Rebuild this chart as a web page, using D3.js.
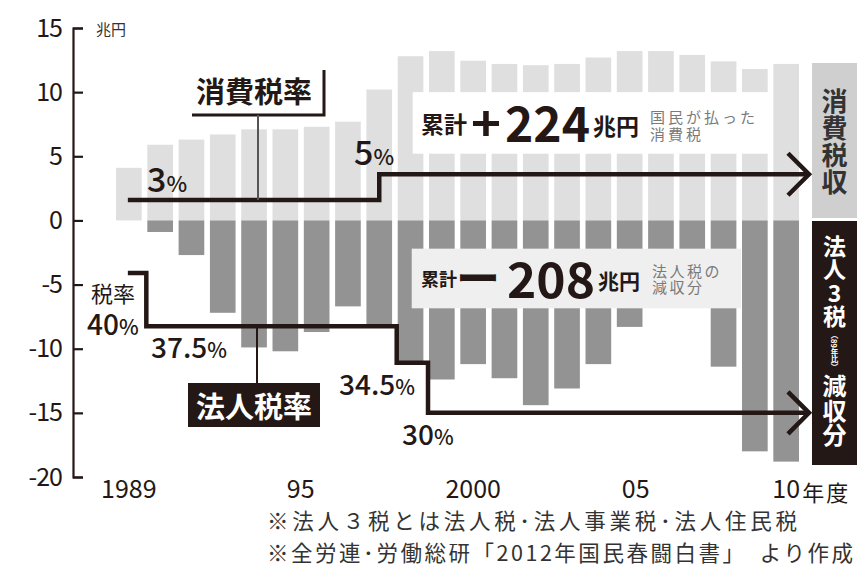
<!DOCTYPE html>
<html><head><meta charset="utf-8">
<script src="https://cdn.jsdelivr.net/npm/d3@7"></script>
<style>
body{margin:0;background:#fff}
svg{display:block}
text{font-family:"Noto Sans CJK JP","Noto Sans",sans-serif}
.vt{writing-mode:vertical-rl;text-orientation:upright}
</style>
</head><body>
<svg id="c" width="859" height="567"></svg>
<script>
// ---- data ----
const years = [1989,1990,1991,1992,1993,1994,1995,1996,1997,1998,1999,2000,2001,2002,2003,2004,2005,2006,2007,2008,2009,2010];
const consumptionTax = [4.1,5.9,6.3,6.7,7.1,7.1,7.3,7.7,10.2,12.8,13.2,12.45,12.2,12.1,12.2,12.7,13.2,13.2,12.9,12.4,11.8,12.2];
const corporateCut = [0,-0.9,-2.7,-7.2,-9.9,-10.2,-8.7,-6.7,-8.3,-11.0,-12.4,-11.2,-12.3,-14.4,-13.1,-11.2,-8.3,-4.0,-3.5,-11.4,-18.0,-18.8];
const yTicks = [15,10,5,0,-5,-10,-15,-20];
const xTickYears = [1989,1995,2000,2005,2010];
const xTickLabels = ["1989","95","2000","05","10"];
const consRateYears = [1989,1997];
const consRates = ["3","5"];
const consLineLevel = [1.6,3.6];
const corpRateYears = [1989,1990,1998,1999];
const corpRates = ["40","37.5","34.5","30"];
const corpLineLevel = [-4.1,-8.25,-11.1,-15.0];

const INK = "#231815";
const svg = d3.select("#c");

const x = d3.scaleBand().domain(years).range([113.2, 801.8]).paddingInner(0.18).paddingOuter(0.09);
const y = d3.scaleLinear().domain([-20,15]).range([477,28]);
const bw = x.bandwidth();
const xc = d => x(d) + bw/2;

// bars
svg.append("g").selectAll("rect").data(years).join("rect")
  .attr("x", d => x(d)).attr("width", bw)
  .attr("y", (d,i) => y(consumptionTax[i]))
  .attr("height", (d,i) => y(0) - y(consumptionTax[i]))
  .attr("fill", "#dfdfdf");
svg.append("g").selectAll("rect").data(years).join("rect")
  .attr("x", d => x(d)).attr("width", bw)
  .attr("y", y(0))
  .attr("height", (d,i) => y(corporateCut[i]) - y(0))
  .attr("fill", "#939393");

// summary boxes
svg.append("rect").attr("x", x(1998)+15).attr("width", x(2010)-1-(x(1998)+15))
  .attr("y", y(10.0)).attr("height", y(5.2)-y(10.0)).attr("fill", "#fff");
svg.append("rect").attr("x", x(1998)+14).attr("width", x(2009)-1-(x(1998)+14))
  .attr("y", y(-2.2)).attr("height", y(-6.85)-y(-2.2)).attr("fill", "#efefef");

function t(txt, xx, yy, size, opts={}) {
  const e = svg.append("text").attr("x", xx).attr("y", yy).attr("font-size", size)
    .attr("fill", opts.fill || INK).attr("font-weight", opts.weight || 400)
    .text(txt);
  if (opts.anchor) e.attr("text-anchor", opts.anchor);
  if (opts.central) e.attr("dominant-baseline", "central");
  if (opts.ls) e.attr("letter-spacing", opts.ls);
  if (opts.len) e.attr("textLength", opts.len).attr("lengthAdjust", "spacingAndGlyphs");
  return e;
}
function twoLine(l1, l2, xx, y1, gap, size, ls, fill) {
  const e = svg.append("text").attr("x", xx).attr("y", y1).attr("font-size", size)
    .attr("fill", fill).attr("letter-spacing", ls).attr("dominant-baseline", "central");
  e.append("tspan").attr("x", xx).text(l1);
  e.append("tspan").attr("x", xx).attr("dy", gap).text(l2);
  return e;
}

// top summary text
t("累計", 421, 123, 23, {weight:700, central:true});
t("+", 471, 120, 47, {weight:700, central:true, len:30});
t("224", 505, 121, 48, {weight:700, central:true, len:85});
t("兆円", 593, 125, 23, {weight:700, central:true});
twoLine("国民が払った", "消費税", 650, 116, 17, 15, 3, "#7a7a7a");
// bottom summary text
t("累計", 421, 278, 18, {weight:700, central:true});
t("ー", 456, 276, 44, {weight:700, central:true});
t("208", 507, 277, 48, {weight:700, central:true, len:88});
t("兆円", 598, 280, 21, {weight:700, central:true});
twoLine("法人税の", "減収分", 652, 270, 16, 15, 2.5, "#7a7a7a");

// step lines
const line = d3.line();
const tipX = x(2010) + bw + 10;
function stepPts(ys, levels, off) {
  const pts = [[xc(ys[0]) - 1, y(levels[0])]];
  for (let i = 1; i < ys.length; i++) {
    const sx = x(ys[i]) + off;
    pts.push([sx, y(levels[i-1])]);
    pts.push([sx, y(levels[i])]);
  }
  pts.push([tipX, y(levels[levels.length-1])]);
  return pts;
}
function arrow(level) {
  const yy = y(level);
  svg.append("path").attr("d", line([[tipX-21, yy-21],[tipX, yy],[tipX-21, yy+21]]))
    .attr("fill","none").attr("stroke",INK).attr("stroke-width",4.5);
}
svg.append("path").attr("d", line(stepPts(consRateYears, consLineLevel, bw/2)))
  .attr("fill","none").attr("stroke",INK).attr("stroke-width",4.5);
arrow(consLineLevel[1]);
svg.append("path").attr("d", line(stepPts(corpRateYears, corpLineLevel, -1)))
  .attr("fill","none").attr("stroke",INK).attr("stroke-width",4.5);
arrow(corpLineLevel[3]);

// rate labels
function rate(num, xx, yy, big, small) {
  const e = svg.append("text").attr("x", xx).attr("y", yy).attr("fill", INK).attr("font-weight", 500);
  e.append("tspan").attr("font-size", big).text(num);
  e.append("tspan").attr("font-size", small).text("%");
  return e;
}
rate(consRates[0], 147, 192, 34, 22);
rate(consRates[1], 354, 165, 34, 22);
// 税率 / 40% as one two-line label
{
  const e = svg.append("text").attr("x", 91).attr("y", 302).attr("fill", INK);
  e.append("tspan").attr("x", 91).attr("font-size", 22).text("税率");
  const l2 = e.append("tspan").attr("x", 87).attr("dy", 33).attr("font-weight", 500);
  l2.append("tspan").attr("font-size", 28).text(corpRates[0]);
  l2.append("tspan").attr("font-size", 21).text("%");
}
rate(corpRates[1], 151, 358, 28, 21);
rate(corpRates[2], 339, 395, 28, 21);
rate(corpRates[3], 402, 445, 28, 21);

// 消費税率 label with bracket
t("消費税率", 254, 90, 29, {weight:700, central:true, anchor:"middle"});
svg.append("path").attr("d", line([[192,115],[324,115],[324,70]]))
  .attr("fill","none").attr("stroke",INK).attr("stroke-width",3);
svg.append("path").attr("d", line([[258,115],[258, y(consLineLevel[0])]]))
  .attr("fill","none").attr("stroke","#555").attr("stroke-width",2);
// 法人税率 label
svg.append("path").attr("d", line([[257, y(corpLineLevel[1])],[257,383]]))
  .attr("fill","none").attr("stroke",INK).attr("stroke-width",2);
svg.append("rect").attr("x",188).attr("y",383).attr("width",132).attr("height",44).attr("fill",INK);
t("法人税率", 254, 405, 29, {weight:700, central:true, anchor:"middle", fill:"#fff"});

// y axis
const yAxis = d3.axisLeft(y).tickValues(yTicks).tickSize(-10).tickPadding(11).tickFormat(d => String(d));
const ga = svg.append("g").attr("transform","translate(73,0)").call(yAxis);
ga.select(".domain").attr("stroke", INK).attr("stroke-width", 2.2);
ga.selectAll(".tick line").attr("stroke", INK).attr("stroke-width", 2.2);
ga.selectAll(".tick text").attr("font-size", 25).attr("fill", INK)
  .attr("font-family", '"Noto Sans CJK JP","Noto Sans",sans-serif').attr("letter-spacing", -1);
t("兆円", 96, 28, 15, {central:true, fill:"#333"});

// x axis labels
const xAxis = d3.axisBottom(x).tickValues(xTickYears).tickSize(0).tickPadding(3)
  .tickFormat(d => xTickLabels[xTickYears.indexOf(d)]);
const gx = svg.append("g").attr("transform","translate(0,477)").call(xAxis);
gx.select(".domain").remove();
gx.selectAll(".tick text").attr("font-size", 25).attr("fill", INK)
  .attr("font-family", '"Noto Sans CJK JP","Noto Sans",sans-serif')
  .attr("dx", d => d === 1995 ? -16 : (d === 2005 ? 6 : 0));
t("年度", xc(2010)+16, 491, 22, {central:true, ls:2});

// right side boxes
svg.append("rect").attr("x",812).attr("y",63).attr("width",45).attr("height",155).attr("fill","#cfcfcf");
svg.append("rect").attr("x",812).attr("y",221).attr("width",45).attr("height",244).attr("fill",INK);
function vt(txt, yy, size, ls, fill) {
  return svg.append("text").attr("class","vt").attr("x", 834.5).attr("y", yy)
    .attr("font-size", size).attr("font-weight", 700).attr("fill", fill)
    .attr("letter-spacing", ls).text(txt);
}
vt("消費税収", 88, 26, 1, "#333");
vt("法人3税", 234.5, 23, 0.5, "#fff");
svg.append("text").attr("x", 834.5).attr("y", 351).attr("font-size", 7.5).attr("font-weight", 700)
  .attr("fill", "#fff").attr("text-anchor", "middle").style("writing-mode", "vertical-rl")
  .text("（89年比）");
vt("減収分", 374, 24, 0.5, "#fff");

// footnotes
t("※法人３税とは法人税･法人事業税･法人住民税", 267, 519, 21.5, {central:true, fill:"#333"})
  .attr("textLength", 530).attr("lengthAdjust","spacing");
t("※全労連･労働総研「2012年国民春闘白書」　より作成", 267, 551, 21.5, {central:true, fill:"#333"})
  .attr("textLength", 586).attr("lengthAdjust","spacing");
</script>
</body></html>
